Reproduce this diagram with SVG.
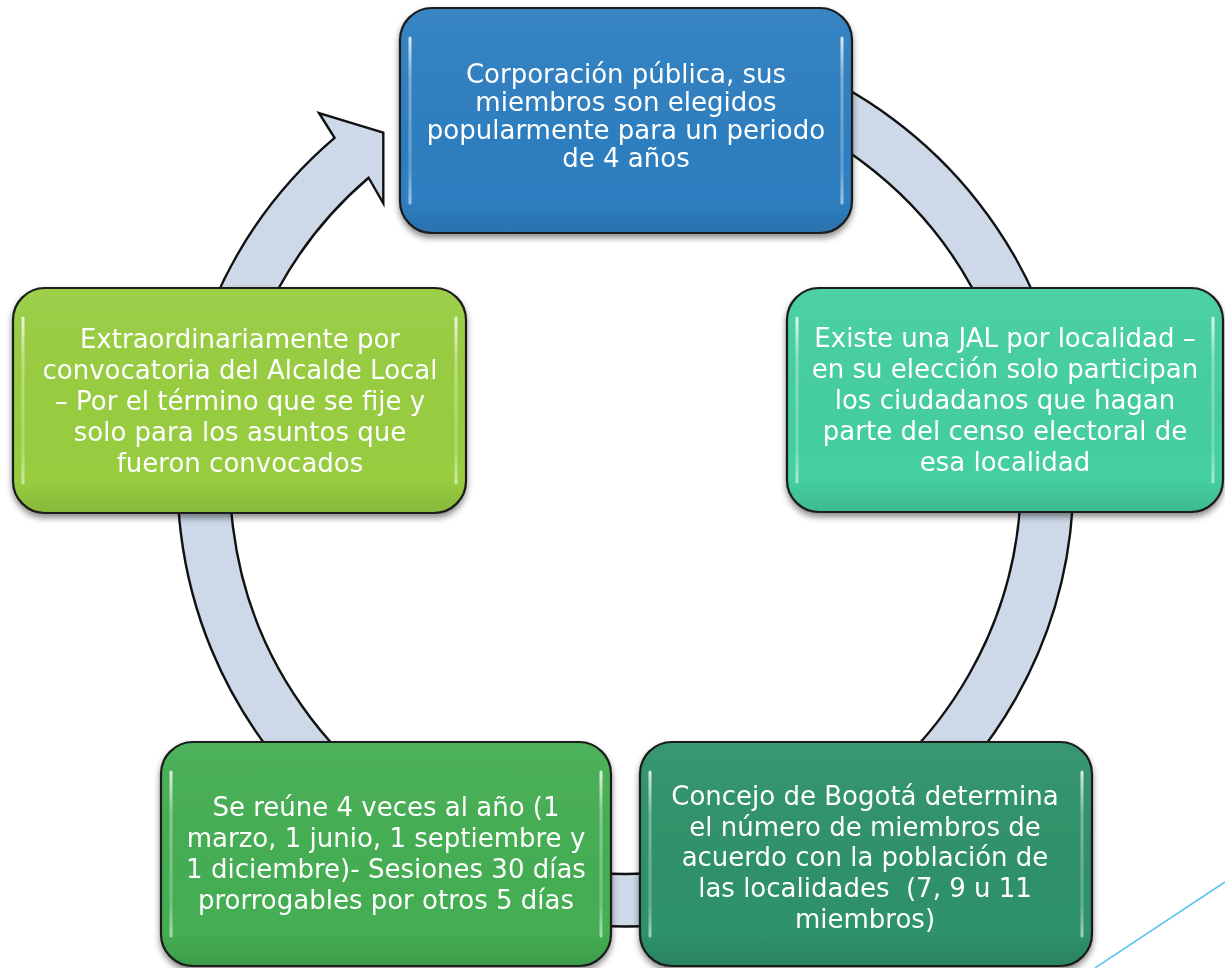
<svg xmlns="http://www.w3.org/2000/svg" width="1225" height="968" viewBox="0 0 1225 968">
  <defs>
    <filter id="shadow" x="-10%" y="-10%" width="120%" height="125%">
      <feDropShadow dx="0" dy="4" stdDeviation="3" flood-color="#000" flood-opacity="0.45"/>
    </filter>
    <linearGradient id="shade" x1="0" y1="0" x2="0" y2="1">
      <stop offset="0" stop-color="#fff" stop-opacity="0.05"/>
      <stop offset="0.85" stop-color="#000" stop-opacity="0"/>
      <stop offset="1" stop-color="#000" stop-opacity="0.1"/>
    </linearGradient>
    <linearGradient id="gloss" x1="0" y1="0" x2="0" y2="1">
      <stop offset="0" stop-color="#fff" stop-opacity="0.8"/>
      <stop offset="0.25" stop-color="#fff" stop-opacity="0.35"/>
      <stop offset="0.8" stop-color="#fff" stop-opacity="0.25"/>
      <stop offset="1" stop-color="#fff" stop-opacity="0.55"/>
    </linearGradient>
  </defs>
  <style>
    .box { stroke: #1a1a1a; stroke-width: 2.2; }
    .shade { fill: url(#shade); stroke: none; }
    .gloss { fill: none; stroke: url(#gloss); stroke-width: 3; stroke-linecap: round; }
    .lbl { font-family: "DejaVu Sans", sans-serif; font-size: 26px; fill: #ffffff; text-anchor: middle; white-space: pre; }
    .ring { fill: #cdd8e8; stroke: #111; stroke-width: 2.4; stroke-linejoin: miter; }
  </style>
  <rect width="1225" height="968" fill="#ffffff"/>

  <g id="connectors">
    <path class="ring" d="M 472.28 57.52 A 448 448 0 1 1 334.55 137.84 L 319 113 L 383.3 132.7 L 383.3 203.3 L 368.64 177.76 A 395.5 395.5 0 1 0 490.23 106.85 Z"/>
  </g>

  <g id="node-top" filter="url(#shadow)">
    <rect class="box" x="400" y="8" width="452" height="225" rx="32" fill="#2e7fc1"/>
    <rect class="shade" x="401" y="9" width="450" height="223" rx="31"/>
    <path class="gloss" d="M 410 38 L 410 203 M 842 38 L 842 203"/>
    <text class="lbl"><tspan x="626" y="83">Corporación pública, sus</tspan><tspan x="626" y="111">miembros son elegidos</tspan><tspan x="626" y="139">popularmente para un periodo</tspan><tspan x="626" y="167">de 4 años</tspan></text>
  </g>

  <g id="node-right" filter="url(#shadow)">
    <rect class="box" x="787" y="288" width="436" height="224" rx="32" fill="#44cfa0"/>
    <rect class="shade" x="788" y="289" width="434" height="222" rx="31"/>
    <path class="gloss" d="M 797 318 L 797 482 M 1213 318 L 1213 482"/>
    <text class="lbl"><tspan x="1005" y="347">Existe una JAL por localidad –</tspan><tspan x="1005" y="378">en su elección solo participan</tspan><tspan x="1005" y="409">los ciudadanos que hagan</tspan><tspan x="1005" y="440">parte del censo electoral de</tspan><tspan x="1005" y="471">esa localidad</tspan></text>
  </g>

  <g id="node-bottom-right" filter="url(#shadow)">
    <rect class="box" x="640" y="742" width="452" height="224" rx="32" fill="#2e926a"/>
    <rect class="shade" x="641" y="743" width="450" height="222" rx="31"/>
    <path class="gloss" d="M 650 772 L 650 936 M 1082 772 L 1082 936"/>
    <text class="lbl" xml:space="preserve"><tspan x="865" y="805">Concejo de Bogotá determina</tspan><tspan x="865" y="836">el número de miembros de</tspan><tspan x="865" y="866">acuerdo con la población de</tspan><tspan x="865" y="897">las localidades  (7, 9 u 11</tspan><tspan x="865" y="928">miembros)</tspan></text>
  </g>

  <g id="node-bottom-left" filter="url(#shadow)">
    <rect class="box" x="161" y="742" width="450" height="224" rx="32" fill="#44ae52"/>
    <rect class="shade" x="162" y="743" width="448" height="222" rx="31"/>
    <path class="gloss" d="M 171 772 L 171 936 M 601 772 L 601 936"/>
    <text class="lbl"><tspan x="386" y="816">Se reúne 4 veces al año (1</tspan><tspan x="386" y="847">marzo, 1 junio, 1 septiembre y</tspan><tspan x="386" y="878">1 diciembre)- Sesiones 30 días</tspan><tspan x="386" y="909">prorrogables por otros 5 días</tspan></text>
  </g>

  <g id="node-left" filter="url(#shadow)">
    <rect class="box" x="13" y="288" width="453" height="225" rx="32" fill="#98cd40"/>
    <rect class="shade" x="14" y="289" width="451" height="223" rx="31"/>
    <path class="gloss" d="M 23 318 L 23 483 M 456 318 L 456 483"/>
    <text class="lbl"><tspan x="240" y="348">Extraordinariamente por</tspan><tspan x="240" y="379">convocatoria del Alcalde Local</tspan><tspan x="240" y="410">– Por el término que se fije y</tspan><tspan x="240" y="441">solo para los asuntos que</tspan><tspan x="240" y="472">fueron convocados</tspan></text>
  </g>

  <line id="corner-line" x1="1095" y1="968" x2="1225" y2="882" stroke="#5bc3ee" stroke-width="1.5"/>
</svg>
